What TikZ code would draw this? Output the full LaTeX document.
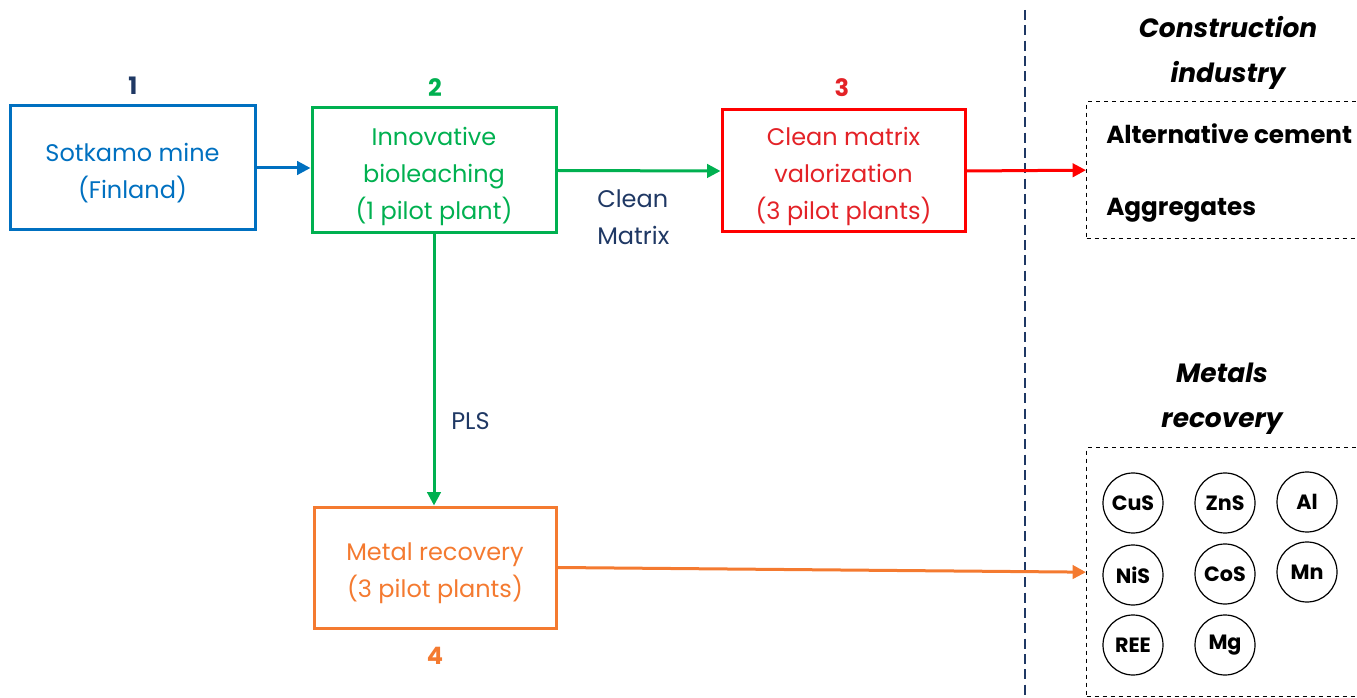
\documentclass[tikz,border=0pt]{standalone}
\usepackage{fontspec}
\setmainfont{Poppins}
\usetikzlibrary{arrows.meta}
\definecolor{cblue}{HTML}{0070C0}
\definecolor{cgreen}{HTML}{00B050}
\definecolor{cred}{HTML}{FF0000}
\definecolor{credt}{HTML}{E32227}
\definecolor{corange}{HTML}{F47A30}
\definecolor{cnavy}{HTML}{1F3864}
\tikzset{
  procbox/.style={draw, line width=2.25pt, inner sep=0pt},
  proctext/.style={align=center, inner sep=0pt, font=\fontsize{18}{27.75}\selectfont},
  numlabel/.style={font=\fontsize{18}{20}\selectfont\bfseries},
  flow/.style={line width=2.25pt, -{Triangle[length=10pt,width=10pt]}},
  outbox/.style={draw, dashed, line width=1pt, inner sep=0pt},
  ttl/.style={font=\fontsize{19.8}{33.75}\selectfont\bfseries\itshape, align=center},
  metal/.style={draw, circle, line width=0.9pt, minimum size={60*0.75pt}, inner sep=0pt,
    font=\fontsize{15.5}{16}\selectfont\bfseries},
  annot/.style={text=cnavy, font=\fontsize{18}{27.75}\selectfont, align=left, inner sep=0pt},
  outtext/.style={font=\fontsize{18.5}{20}\selectfont\bfseries, anchor=west, inner sep=0pt}
}
\begin{document}
\begin{tikzpicture}[x=0.75pt,y=-0.75pt]
\useasboundingbox (0,0) rectangle (1357,698);
\clip (0,0) rectangle (1357,698);

% process boxes
\node[procbox, cblue, minimum width={245*0.75pt}, minimum height={124*0.75pt}] (b1) at (132.5,168) {};
\node[procbox, cgreen, minimum width={244*0.75pt}, minimum height={125*0.75pt}] (b2) at (434,170.5) {};
\node[procbox, cred, minimum width={243*0.75pt}, minimum height={122*0.75pt}] (b3) at (843.5,171) {};
\node[procbox, corange, minimum width={242*0.75pt}, minimum height={121*0.75pt}] (b4) at (435,567.5) {};

\node[proctext, text=cblue] (b1t) at (132.5,173.5) {Sotkamo mine\\(Finland)};
\node[proctext, text=cgreen] (b2t) at (434,176) {Innovative\\bioleaching\\(1 pilot plant)};
\node[proctext, text=credt] (b3t) at (843.5,176) {Clean matrix\\valorization\\(3 pilot plants)};
\node[proctext, text=corange] (b4t) at (435,573.5) {Metal recovery\\(3 pilot plants)};

% numbers
\node[numlabel, text=cnavy] (n1) at (133,86) {1};
\node[numlabel, text=cgreen] (n2) at (435,88) {2};
\node[numlabel, text=credt] (n3) at (842,88) {3};
\node[numlabel, text=corange] (n4) at (435,656) {4};

% separator
\coordinate (septop) at (1025,10);
\coordinate (sepbot) at (1025,698);
\draw[cnavy, line width=1.5pt, dash pattern=on 7.5pt off 4pt] (septop) -- (sepbot);

% output boxes
\node[outbox, minimum width={290*0.75pt}, minimum height={137*0.75pt}, anchor=north west] (cbox) at (1086,101) {};
\node[outbox, minimum width={290*0.75pt}, minimum height={249*0.75pt}, anchor=north west] (mbox) at (1086,447) {};

\node[outtext] (alt) at (1106,134) {Alternative cement};
\node[outtext] (agg) at (1106,210) {Aggregates};

\node[ttl] (t1) at (1228,53) {Construction\\industry};
\node[ttl] (t2) at (1222,399) {Metals\\recovery};

% metals
\node[metal] (cus) at (1133,503) {CuS};
\node[metal] (zns) at (1225,503) {ZnS};
\node[metal] (al)  at (1307,502) {Al};
\node[metal] (nis) at (1133,575) {NiS};
\node[metal] (cos) at (1225,574) {CoS};
\node[metal] (mn)  at (1307,572) {Mn};
\node[metal] (ree) at (1133,645) {REE};
\node[metal] (mg)  at (1225,645) {Mg};

% flows
\draw[flow, cblue] (b1.east) -- (b1.east -| b2.west);
\draw[flow, cgreen] (b2.east) -- (b3.west);
\draw[flow, cgreen] (b2.south) -- (b2.south |- b4.north);
\draw[flow, cred] (b3.east) -- (cbox.west);
\draw[flow, corange] (b4.east) -- (mbox.west);

% annotations
\node[annot, anchor=west] (cm) at (597,217) {Clean\\Matrix};
\node[annot, anchor=west] (pls) at (451,421) {PLS};
\end{tikzpicture}
\end{document}
